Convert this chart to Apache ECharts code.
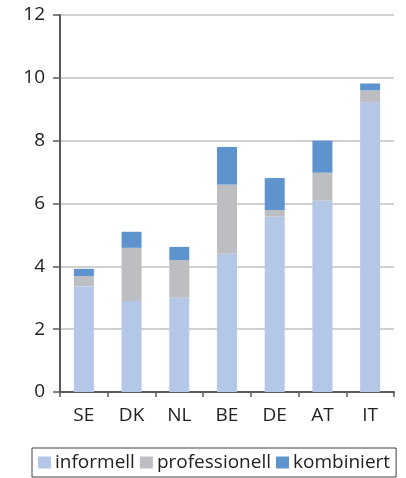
<!DOCTYPE html>
<html><head><meta charset="utf-8">
<script src="https://cdn.jsdelivr.net/npm/echarts@6/dist/echarts.min.js"></script>
<style>html,body{margin:0;padding:0;background:#fff}#c{width:406px;height:478px}</style>
</head><body><div id="c"></div>
<script>
const categories = ['SE','DK','NL','BE','DE','AT','IT'];
const informell = [3.37, 2.9, 3.0, 4.4, 5.58, 6.09, 9.22];
const professionell = [0.32, 1.69, 1.2, 2.2, 0.21, 0.89, 0.38];
const kombiniert = [0.23, 0.51, 0.42, 1.2, 1.02, 1.02, 0.22];
const yTicks = [0, 2, 4, 6, 8, 10, 12];

const font = 'Open Sans';
const chart = echarts.init(document.getElementById('c'));
chart.setOption({
  animation: false,
  textStyle: {fontFamily: font},
  grid: {left: 60, right: 12, top: 15, bottom: 86},
  legend: {
    bottom: 1, left: 32,
    data: ['informell','professionell','kombiniert'],
    itemWidth: 13, itemHeight: 12, itemGap: 5,
    borderColor: '#404040', borderWidth: 1, borderRadius: 0,
    padding: [5, 6, 5, 6],
    icon: 'rect',
    textStyle: {fontSize: 19, color: '#222', fontFamily: font, padding: [0,0,0,-1]}
  },
  xAxis: {
    type: 'category', data: categories,
    axisLine: {lineStyle: {color: '#595959', width: 2}},
    axisTick: {show: true, length: 5, lineStyle: {color: '#595959', width: 1.5}},
    axisLabel: {fontSize: 19, color: '#222', margin: 14, fontFamily: font}
  },
  yAxis: {
    type: 'value', min: 0, max: 12, interval: 2,
    axisLine: {show: true, lineStyle: {color: '#595959', width: 2}},
    axisTick: {show: true, length: 7, lineStyle: {color: '#595959', width: 1.5}},
    axisLabel: {fontSize: 19, color: '#222', margin: 15, fontFamily: font,
      formatter: v => yTicks.includes(v) ? String(v) : ''},
    splitLine: {lineStyle: {color: '#d0d0d0', width: 2}}
  },
  series: [
    {name: 'informell', type: 'bar', stack: 's', data: informell, barWidth: 20, itemStyle: {color: '#B4C7E7'}},
    {name: 'professionell', type: 'bar', stack: 's', data: professionell, barWidth: 20, itemStyle: {color: '#BDBEC1'}},
    {name: 'kombiniert', type: 'bar', stack: 's', data: kombiniert, barWidth: 20, itemStyle: {color: '#5F93CD'}}
  ]
});
</script></body></html>
